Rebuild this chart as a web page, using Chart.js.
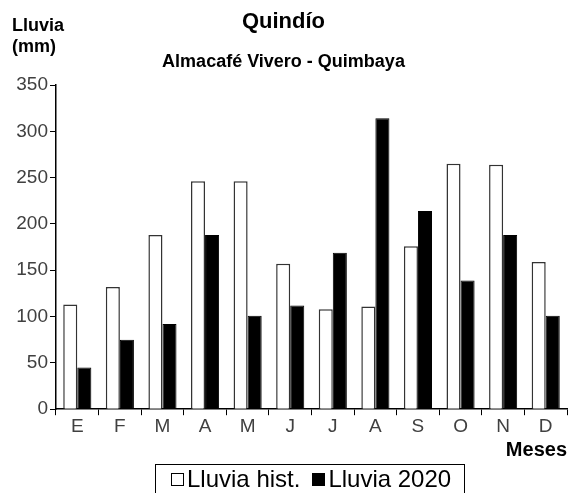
<!DOCTYPE html>
<html>
<head>
<meta charset="utf-8">
<script src="https://cdn.jsdelivr.net/npm/chart.js@4.4.0/dist/chart.umd.min.js"></script>
<style>
html, body { margin: 0; padding: 0; background: #fff; }
#wrap { position: relative; width: 570px; height: 493px; overflow: hidden; }
#legend {
	position: absolute; left: 155px; top: 464px; width: 310px; height: 40px;
	border: 1px solid #000; border-bottom: none;
	font-family: 'Liberation Sans', Arial, sans-serif; font-size: 24px; line-height: 28px;
	color: #000; white-space: nowrap; padding-left: 15px; box-sizing: border-box;
}
#legend span.item { display: inline-block; margin-right: 12px; }
#legend span.box {
	display: inline-block; width: 11px; height: 11px; border: 1px solid #000;
	margin-right: 3px; vertical-align: 1px;
}
</style>
</head>
<body>
<div id="wrap">
<canvas id="chart" width="570" height="493"></canvas>
<div id="legend"></div>
</div>
<script>
// data
var meses = ["E", "F", "M", "A", "M", "J", "J", "A", "S", "O", "N", "D"];
var lluviaHist = [113, 132, 188, 246, 246, 157, 108, 111, 176, 265, 264, 159];
var lluvia2020 = [45, 75, 92, 188, 101, 112, 169, 314, 214, 139, 188, 101];
var yMax = 350;
var yStep = 50;

var FONT = "'Liberation Sans', Arial, sans-serif";

// "Lluvia (mm)" label in the top-left corner
var yLabel = {
	id: "yLabel",
	afterDraw: function (chart) {
		var ctx = chart.ctx;
		ctx.save();
		ctx.fillStyle = "#000";
		ctx.font = "bold 18px " + FONT;
		ctx.textAlign = "left";
		ctx.textBaseline = "alphabetic";
		ctx.fillText("Lluvia", 12, 31);
		ctx.fillText("(mm)", 12, 52);
		ctx.restore();
	}
};

var ctx = document.getElementById("chart").getContext("2d");
var chart = new Chart(ctx, {
	type: "bar",
	data: {
		labels: meses,
		datasets: [
		{
			label: "Lluvia hist.",
			data: lluviaHist,
			backgroundColor: "#fff",
			borderColor: "#333",
			borderWidth: 1.5
		},
		{
			label: "Lluvia 2020",
			data: lluvia2020,
			backgroundColor: "#000",
			borderColor: "#000",
			borderWidth: 1
		}
		]
	},
	options: {
		responsive: false,
		animation: false,
		devicePixelRatio: 1,
		layout: { padding: { left: 0, right: 3, top: 0, bottom: 31 } },
		datasets: {
			bar: { categoryPercentage: 0.66, barPercentage: 1 }
		},
		plugins: {
			title: {
				display: true,
				text: "Quindío",
				color: "#000",
				font: { family: FONT, size: 22, weight: "bold" },
				padding: { top: 9, bottom: 0 }
			},
			subtitle: {
				display: true,
				text: "Almacafé Vivero - Quimbaya",
				color: "#000",
				font: { family: FONT, size: 18, weight: "bold" },
				padding: { top: 16, bottom: 12 }
			},
			legend: { display: false },
			tooltip: { enabled: false }
		},
		scales: {
			x: {
				offset: true,
				grid: {
					offset: true,
					drawOnChartArea: false,
					drawTicks: true,
					tickLength: 6,
					color: "#000"
				},
				border: { color: "#000", width: 1.5 },
				ticks: {
					color: "#404040",
					font: { family: FONT, size: 19 },
					padding: 0
				},
				title: {
					display: true,
					text: "Meses",
					align: "end",
					color: "#000",
					font: { family: FONT, size: 20, weight: "bold" },
					padding: { top: 0, bottom: 0 }
				}
			},
			y: {
				min: 0,
				max: yMax,
				afterFit: function (scale) { scale.width = 56; },
				grid: {
					drawOnChartArea: false,
					drawTicks: true,
					tickLength: 6,
					color: "#000"
				},
				border: { color: "#000", width: 1.5 },
				ticks: {
					stepSize: yStep,
					color: "#404040",
					font: { family: FONT, size: 19 },
					padding: 2
				}
			}
		}
	},
	plugins: [yLabel]
});

// legend built from the chart's own datasets
var legendHtml = "";
chart.data.datasets.forEach(function (ds) {
	legendHtml += '<span class="item"><span class="box" style="background:' + ds.backgroundColor +
		'"></span>' + ds.label + '</span>';
});
document.getElementById("legend").innerHTML = legendHtml;
</script>
</body>
</html>
